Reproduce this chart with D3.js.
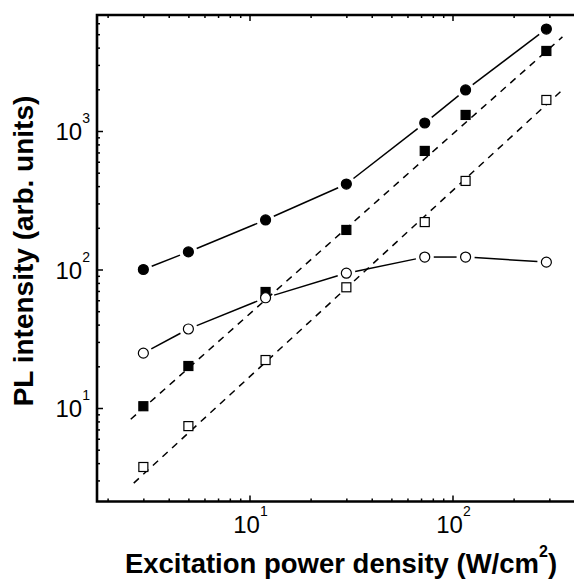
<!DOCTYPE html>
<html>
<head>
<meta charset="utf-8">
<script src="https://cdn.jsdelivr.net/npm/d3@7"></script>
<style>
  body { margin: 0; background: #fff; }
  text { font-family: "Liberation Sans", Arial, sans-serif; fill: #000; }
</style>
</head>
<body>
<script>
// excitation power density (W/cm2) for every measured point
const power = [3, 5, 12, 30, 73, 116, 290];
// four PL intensity series (arb. units)
const filledCircle = [100, 134, 228, 414, 1142, 1978, 5447];
const filledSquare = [10.3, 20.1, 68.8, 193, 718, 1306, 3784];
const openCircle = [24.9, 37.2, 62.5, 94, 123, 123, 113];
const openSquare = [3.75, 7.4, 22.2, 74.4, 220, 436, 1675];
// dashed power-law fits, end points
const fitFilledX = [2.6, 348];
const fitFilledY = [8.3, 4780];
const fitOpenX = [2.69, 356];
const fitOpenY = [2.87, 2043];
// tick values
const xMajor = [10, 100];
const yMajor = [10, 100, 1000];
const minorSteps = [2, 3, 4, 5, 6, 7, 8, 9];

const W = 574, H = 579;
const pLeft = 97, pTop = 15, pBottom = 501.5, pRight = 600;

const svg = d3.select("body").append("svg")
    .attr("width", W)
    .attr("height", H);

const x = d3.scaleLog().domain([10, 100]).range([249.5, 452.5]);
const xd = [x.invert(pLeft), x.invert(pRight)];
x.domain(xd).range([pLeft, pRight]);

const y = d3.scaleLog().domain([10, 1000]).range([408, 131]);
const yd = [y.invert(pBottom), y.invert(pTop)];
y.domain(yd).range([pBottom, pTop]);

function minors(dom) {
    let out = [];
    [1, 10, 100, 1000].forEach(dec => {
        minorSteps.forEach(s => {
            let v = s * dec;
            if (v > dom[0] && v < dom[1]) out.push(v);
        });
    });
    return out;
}
const xMinor = minors(xd);
const yMinor = minors(yd);

function tickAxis(axisFn, scale, vals, size, tr) {
    svg.append("g")
        .attr("transform", tr)
        .call(axisFn(scale).tickValues(vals).tickSize(size).tickFormat(""))
        .call(g => g.select(".domain").remove())
        .call(g => g.selectAll("line").attr("stroke-width", 1.5));
}
tickAxis(d3.axisBottom, x, xMinor, -3, `translate(0,${pBottom})`);
tickAxis(d3.axisBottom, x, xMajor, -6, `translate(0,${pBottom})`);
tickAxis(d3.axisTop, x, xMinor, -3, `translate(0,${pTop})`);
tickAxis(d3.axisTop, x, xMajor, -6, `translate(0,${pTop})`);
tickAxis(d3.axisLeft, y, yMinor, -3, `translate(${pLeft},0)`);
tickAxis(d3.axisLeft, y, yMajor, -6, `translate(${pLeft},0)`);

// frame
svg.append("path")
    .attr("d", `M${pRight},${pTop}H${pLeft}V${pBottom}H${pRight}`)
    .attr("fill", "none")
    .attr("stroke", "#000")
    .attr("stroke-width", 2.6);

// tick labels 10^n
function powLabel(sel) {
    sel.append("tspan").text("10");
    sel.append("tspan")
        .attr("dy", -17)
        .attr("font-size", 14)
        .text(d => Math.round(Math.log10(d)));
}
svg.selectAll(".xlab").data(xMajor).join("text")
    .attr("class", "xlab")
    .attr("x", d => x(d) + 1)
    .attr("y", 533)
    .attr("text-anchor", "middle")
    .attr("font-size", 24)
    .call(powLabel);

svg.selectAll(".ylab").data(yMajor).join("text")
    .attr("class", "ylab")
    .attr("x", 90)
    .attr("y", d => y(d) + 9)
    .attr("text-anchor", "end")
    .attr("font-size", 24)
    .call(powLabel);

// axis titles
const xt = svg.append("text")
    .attr("x", 341)
    .attr("y", 573)
    .attr("text-anchor", "middle")
    .attr("font-size", 27.5)
    .attr("font-weight", "bold");
xt.append("tspan").text("Excitation power density (W/cm");
xt.append("tspan").attr("dy", -16).attr("font-size", 16).text("2");
xt.append("tspan").attr("dy", 16).text(")");

svg.append("text")
    .attr("transform", "translate(33,251) rotate(-90)")
    .attr("text-anchor", "middle")
    .attr("font-size", 28)
    .attr("font-weight", "bold")
    .text("PL intensity (arb. units)");

// dashed fits
const line = d3.line().x(d => x(d[0])).y(d => y(d[1]));
[[fitFilledX, fitFilledY], [fitOpenX, fitOpenY]].forEach(([fx, fy]) => {
    svg.append("path")
        .attr("d", line(d3.zip(fx, fy)))
        .attr("fill", "none")
        .attr("stroke", "#000")
        .attr("stroke-width", 1.5)
        .attr("stroke-dasharray", "7,6");
});

// solid connecting lines, broken around each symbol
function gapLine(vals, gap) {
    const pts = power.map((p, i) => [x(p), y(vals[i])]);
    for (let i = 0; i < pts.length - 1; i++) {
        const [x1, y1] = pts[i], [x2, y2] = pts[i + 1];
        const len = Math.hypot(x2 - x1, y2 - y1);
        if (len < 2 * gap) continue;
        const ux = (x2 - x1) / len, uy = (y2 - y1) / len;
        svg.append("line")
            .attr("x1", x1 + ux * gap).attr("y1", y1 + uy * gap)
            .attr("x2", x2 - ux * gap).attr("y2", y2 - uy * gap)
            .attr("stroke", "#000")
            .attr("stroke-width", 1.5);
    }
}
gapLine(filledCircle, 9);
gapLine(openCircle, 9);

// symbols
const pairs = v => power.map((p, i) => [p, v[i]]);
function squares(vals, fill) {
    svg.append("g").selectAll("rect").data(pairs(vals)).join("rect")
        .attr("x", d => x(d[0]) - 4.5)
        .attr("y", d => y(d[1]) - 4.5)
        .attr("width", 9)
        .attr("height", 9)
        .attr("fill", fill)
        .attr("stroke", "#000")
        .attr("stroke-width", 1.2);
}
function circles(vals, fill) {
    svg.append("g").selectAll("circle").data(pairs(vals)).join("circle")
        .attr("cx", d => x(d[0]))
        .attr("cy", d => y(d[1]))
        .attr("r", 5)
        .attr("fill", fill)
        .attr("stroke", "#000")
        .attr("stroke-width", 1.2);
}
squares(filledSquare, "#000");
squares(openSquare, "#fff");
circles(openCircle, "#fff");
circles(filledCircle, "#000");
</script>
</body>
</html>
